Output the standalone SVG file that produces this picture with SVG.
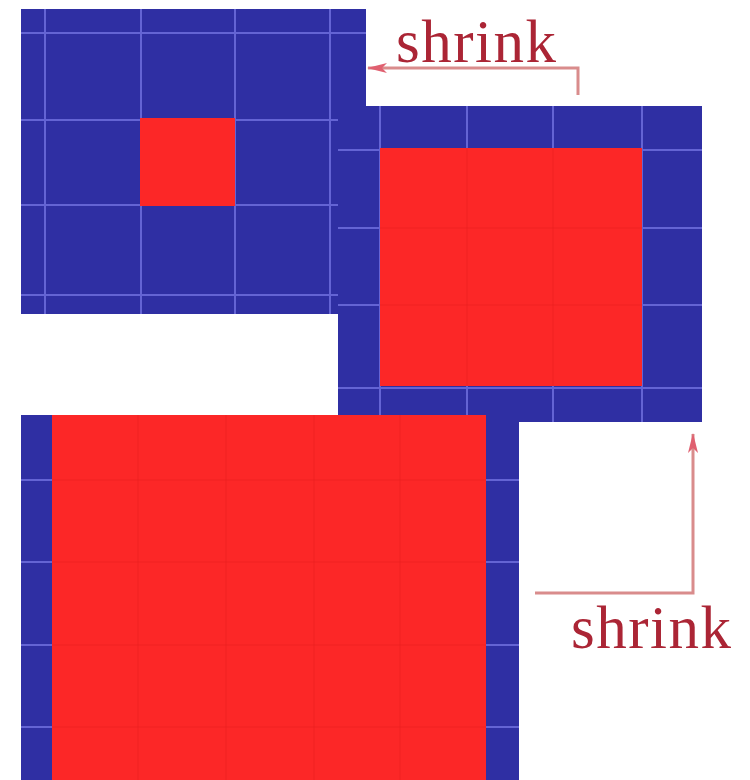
<svg xmlns="http://www.w3.org/2000/svg" width="750" height="780" viewBox="0 0 750 780">
<defs>
<style>
.blue{fill:#2f2fa3}
.red{fill:#fc2727}
.gl{stroke:#6464d4;stroke-width:2;fill:none}
.rl{stroke:#e82020;stroke-width:1;fill:none;opacity:0.6}
.lbl{font-family:"Liberation Serif","Times New Roman",serif;font-size:61px;letter-spacing:1.5px;fill:#ab2535}
.conn{stroke:#d98c8c;stroke-width:3;fill:none}
</style>
<marker id="ah" viewBox="0 0 20 10" refX="19" refY="5" markerWidth="20" markerHeight="10" markerUnits="userSpaceOnUse" orient="auto">
<path d="M0,0 L20,5 L0,10 L5,5 Z" fill="#e06070"/>
</marker>
</defs>
<rect width="750" height="780" fill="#ffffff"/>
<g id="panel-small">
<rect class="blue" x="21" y="9" width="345" height="305"/>
<path class="gl" d="M45,9V314 M141,9V314 M235,9V314 M330,9V314 M21,33H366 M21,120H366 M21,205H366 M21,295H366"/>
<rect class="red" x="140" y="118" width="95" height="88"/>
</g>
<g id="panel-medium">
<rect class="blue" x="338" y="106" width="364" height="316"/>
<path class="gl" d="M380,106V422 M467,106V422 M553,106V422 M642,106V422 M338,150H702 M338,228H702 M338,305H702 M338,388H702"/>
<rect class="red" x="380" y="148" width="262" height="238"/>
<path class="rl" d="M467,148V386 M553,148V386 M380,228H642 M380,305H642"/>
</g>
<g id="panel-large">
<rect class="blue" x="21" y="415" width="498" height="365"/>
<path class="gl" d="M21,480H519 M21,562H519 M21,645H519 M21,727H519"/>
<rect class="red" x="52" y="415" width="434" height="365"/>
<path class="rl" d="M138,415V780 M226,415V780 M314,415V780 M400,415V780 M52,480H486 M52,562H486 M52,645H486 M52,727H486"/>
</g>
<g id="connectors">
<path class="conn" d="M578,95V68H368" marker-end="url(#ah)"/>
<path class="conn" d="M535,593H693V434" marker-end="url(#ah)"/>
</g>
<g id="labels">
<text class="lbl" x="396" y="62">shrink</text>
<text class="lbl" x="571" y="648">shrink</text>
</g>
</svg>
